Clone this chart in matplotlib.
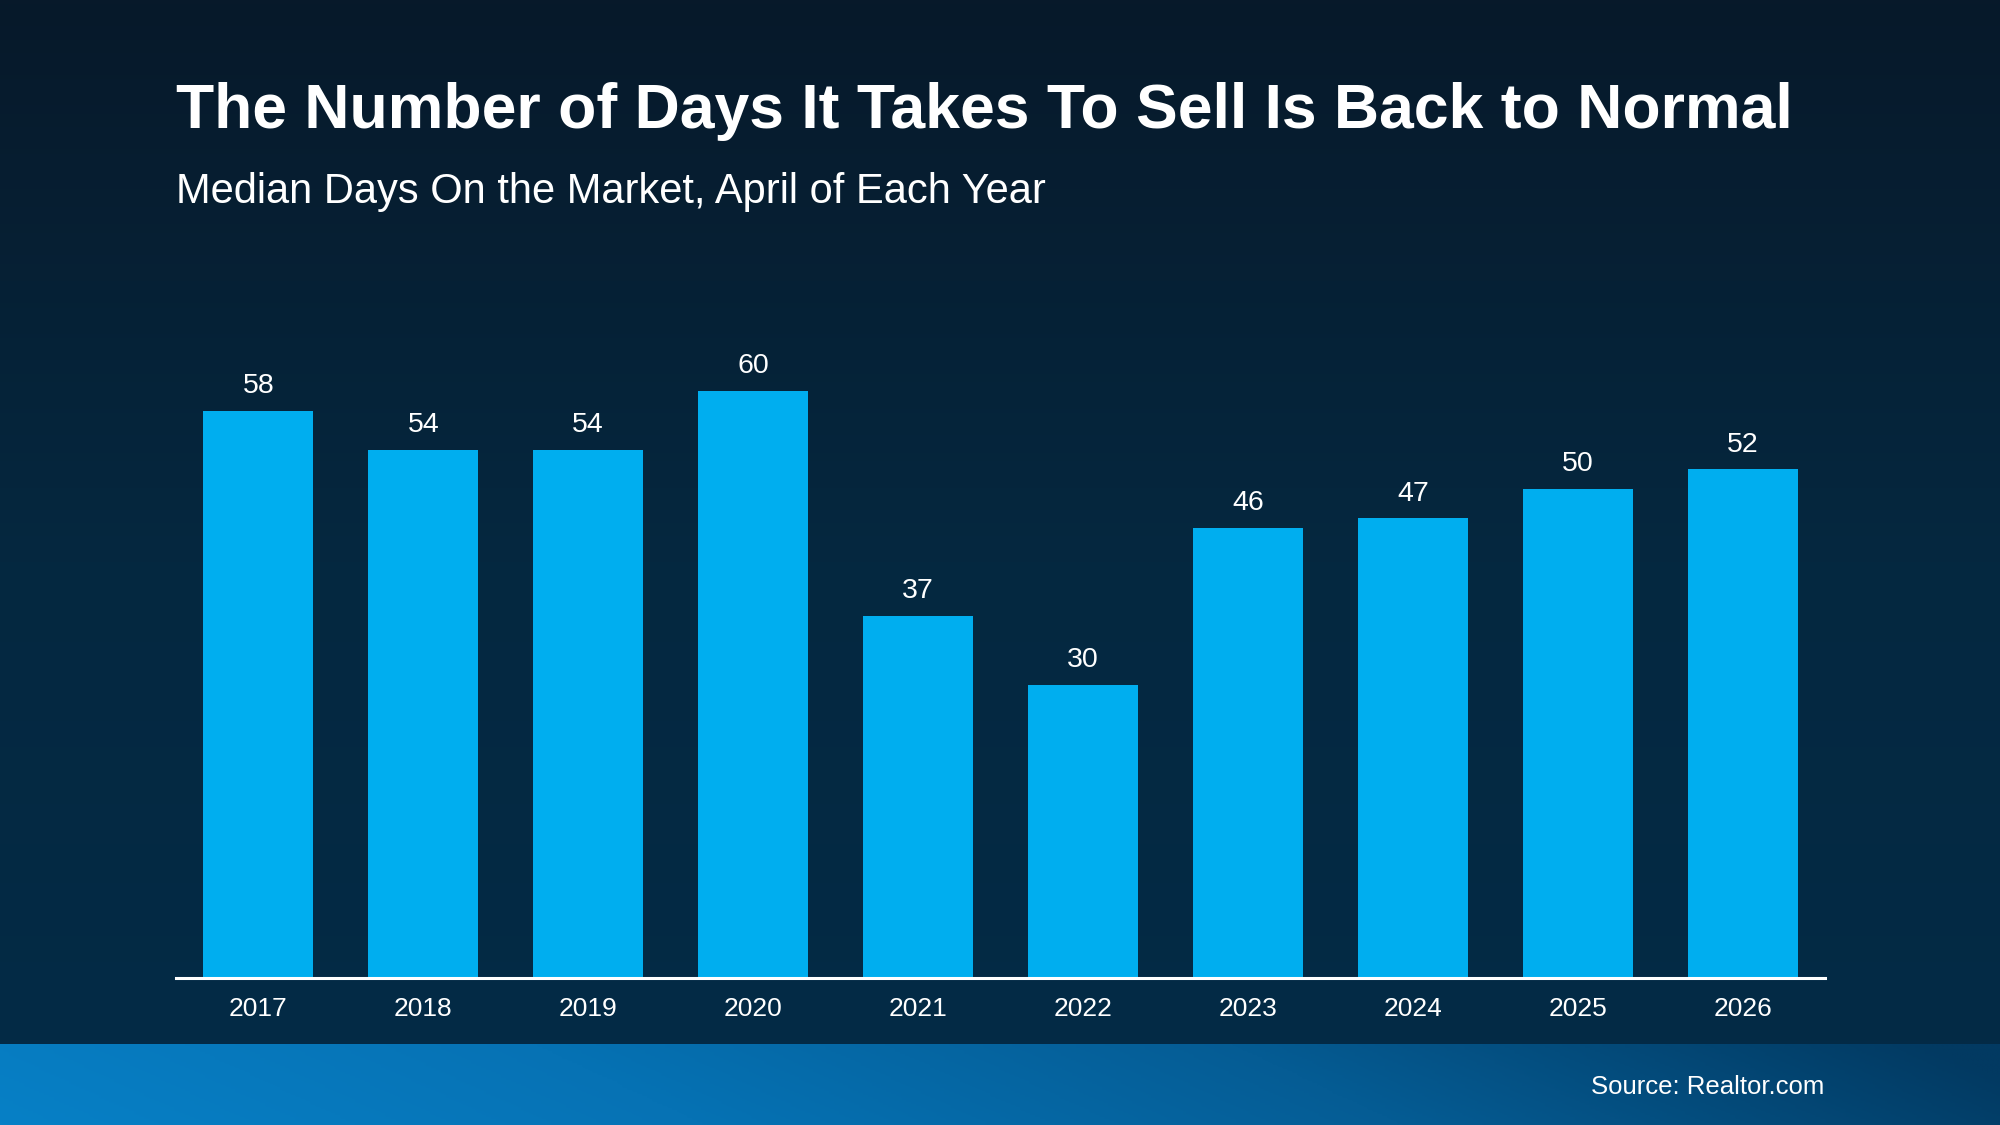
import numpy as np
import matplotlib
matplotlib.use('Agg')
import matplotlib.pyplot as plt
from matplotlib.colors import LinearSegmentedColormap

# chart data
years = ['2017', '2018', '2019', '2020', '2021', '2022', '2023', '2024', '2025', '2026']
days = [58, 54, 54, 60, 37, 30, 46, 47, 50, 52]

title = 'The Number of Days It Takes To Sell Is Back to Normal'
subtitle = 'Median Days On the Market, April of Each Year'
source = 'Source: Realtor.com'

plt.rcParams['font.family'] = ['Liberation Sans', 'DejaVu Sans']

W, H = 2000, 1125
fig = plt.figure(figsize=(W / 100, H / 100), dpi=100)

# dark vertical gradient background
bg = fig.add_axes([0, 0, 1, 1])
bg.axis('off')
bg_cmap = LinearSegmentedColormap.from_list('bg', ['#07192A', '#052840', '#032B47'])
bg.imshow(np.linspace(0, 1, 256).reshape(-1, 1), cmap=bg_cmap, aspect='auto',
          extent=[0, 1, 0, 1], origin='upper')

# blue footer band
band_h = (H - 1044) / H
band = fig.add_axes([0, 0, 1, band_h])
band.axis('off')
gx, gy = np.meshgrid(np.linspace(0, 1, 400), np.linspace(0, 1, 40))
band_cmap = LinearSegmentedColormap.from_list(
    'band', ['#0780C6', '#0672B4', '#055C94', '#023A62'])
band.imshow(np.clip(gx * 0.95 + (1 - gy) * 0.08, 0, 1), cmap=band_cmap,
            aspect='auto', extent=[0, 1, 0, 1], origin='upper', vmin=0, vmax=1)

# bar chart
ax = fig.add_axes([176 / W, 1 - 978 / H, 1649 / W, (978 - 293.4) / H])
ax.patch.set_alpha(0)
x = np.arange(len(years))
ax.bar(x, days, width=0.667, color='#00AEEF', zorder=2)
ax.set_xlim(-0.5, 9.5)
ax.set_ylim(0, 70)
for s in ['top', 'left', 'right']:
    ax.spines[s].set_visible(False)
ax.spines['bottom'].set_color('white')
ax.spines['bottom'].set_linewidth(2.2)
ax.spines['bottom'].set_zorder(3)
ax.set_yticks([])
ax.set_xticks(x)
ax.set_xticklabels(years, color='white', fontsize=19)
ax.tick_params(axis='x', length=0, pad=14)

for i, v in enumerate(days):
    ax.annotate(str(v), (i, v), xytext=(0, 8.5), textcoords='offset points',
                ha='center', va='bottom', color='white', fontsize=20.5)

fig.text(176 / W, 1 - 128 / H, title, color='white', fontsize=45,
         fontweight='bold', ha='left', va='baseline')
fig.text(176 / W, 1 - 203 / H, subtitle, color='white', fontsize=30,
         ha='left', va='baseline')
fig.text(1824 / W, 1 - 1094 / H, source, color='white', fontsize=18.5,
         ha='right', va='baseline')

fig.savefig('out.png', dpi=100)
